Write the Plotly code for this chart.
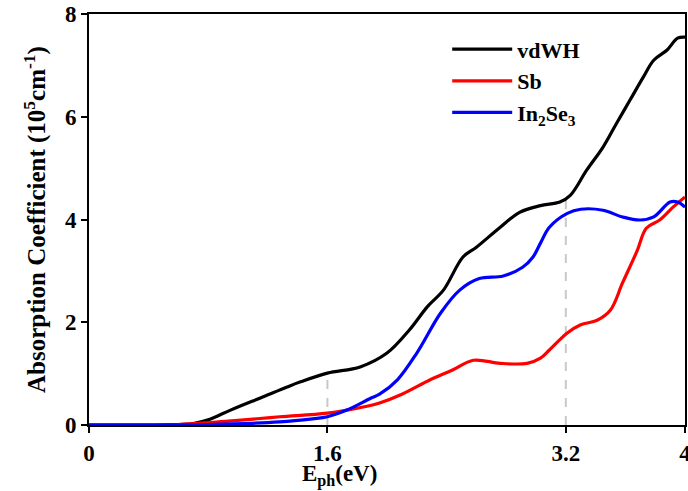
import numpy as np
import plotly.graph_objects as go

# photon energy (eV) and absorption coefficient (1e5 cm^-1)
E_vdwh = [0, 0.5, 0.7, 0.8, 0.95, 1.17, 1.33, 1.42, 1.6, 1.82, 2.0, 2.15, 2.27, 2.38, 2.51, 2.6,
          2.76, 2.89, 3.03, 3.16, 3.23, 3.34, 3.45, 3.54, 3.63, 3.72, 3.79, 3.88, 3.95, 4.0]
A_vdwh = [0, 0.005, 0.03, 0.1, 0.29, 0.55, 0.74, 0.84, 1.01, 1.13, 1.40, 1.85, 2.30, 2.63, 3.27, 3.46,
          3.85, 4.14, 4.27, 4.34, 4.47, 4.96, 5.41, 5.87, 6.32, 6.77, 7.10, 7.30, 7.53, 7.55]

E_sb = [0, 0.6, 0.83, 1.0, 1.28, 1.6, 1.84, 1.95, 2.1, 2.29, 2.44, 2.58, 2.76, 2.94, 3.03, 3.09,
        3.21, 3.30, 3.41, 3.50, 3.58, 3.68, 3.74, 3.83, 3.92, 4.0]
A_sb = [0, 0.01, 0.05, 0.09, 0.16, 0.23, 0.35, 0.43, 0.6, 0.88, 1.07, 1.26, 1.2, 1.2, 1.30, 1.46,
        1.79, 1.95, 2.04, 2.24, 2.76, 3.40, 3.83, 3.99, 4.24, 4.44]

E_in2se3 = [0, 0.8, 1.28, 1.5, 1.6, 1.73, 1.89, 1.95, 2.07, 2.2, 2.36, 2.49, 2.62, 2.78, 2.91, 2.98,
            3.03, 3.09, 3.21, 3.30, 3.45, 3.58, 3.70, 3.79, 3.90, 3.95, 4.0]
A_in2se3 = [0, 0.01, 0.06, 0.12, 0.16, 0.29, 0.52, 0.60, 0.88, 1.40, 2.18, 2.63, 2.85, 2.90, 3.07, 3.27,
            3.54, 3.85, 4.12, 4.20, 4.18, 4.05, 3.99, 4.05, 4.34, 4.34, 4.24]

marker_E = [1.6, 3.2]

x_ticks = [0, 1.6, 3.2, 4]
x_tick_labels = ["0", "1.6", "3.2", "4"]
y_ticks = [0, 2, 4, 6, 8]

FONT = "Liberation Serif, Times New Roman, serif"

fig = go.Figure()

# dashed guide lines up to the vdWH curve
for xe in marker_E:
    top = float(np.interp(xe, E_vdwh, A_vdwh))
    fig.add_trace(go.Scatter(x=[xe, xe], y=[0, top], mode="lines",
                             line=dict(color="#c8c8c8", width=2, dash="dash"),
                             showlegend=False, hoverinfo="skip"))

series = [("vdWH", E_vdwh, A_vdwh, "#000000"),
          ("Sb", E_sb, A_sb, "#ff0000"),
          ("In<sub>2</sub>Se<sub>3</sub>", E_in2se3, A_in2se3, "#0000ff")]
for name, xs, ys, col in series:
    fig.add_trace(go.Scatter(x=xs, y=ys, mode="lines", name=name,
                             line=dict(color=col, width=3.2, shape="spline", smoothing=1.0)))

fig.update_layout(
    width=688, height=491,
    margin=dict(l=89, r=3, t=14, b=66),
    paper_bgcolor="white", plot_bgcolor="white",
    font=dict(family=FONT, size=22, color="black", weight="bold"),
    legend=dict(x=0.601, y=0.965, xanchor="left", yanchor="top",
                bgcolor="rgba(0,0,0,0)", font=dict(size=22, family=FONT, weight="bold"),
                itemwidth=60),
    showlegend=True,
    annotations=[dict(text="E<sub>ph</sub>(eV)", x=0.421, y=-0.122, xref="paper", yref="paper",
                      xanchor="center", yanchor="middle", showarrow=False,
                      font=dict(size=23, family=FONT, weight="bold"))],
)
fig.update_xaxes(range=[0, 4], tickvals=x_ticks, ticktext=x_tick_labels, automargin=False,
                 showline=True, linecolor="black", linewidth=2, mirror=True,
                 ticks="outside", ticklen=6, tickwidth=2, tickcolor="black",
                 showgrid=False, zeroline=False, ticklabeloverflow="allow",
                 tickfont=dict(size=23, family=FONT, weight="bold"))
fig.update_yaxes(range=[0, 8], tickvals=y_ticks, automargin=False,
                 showline=True, linecolor="black", linewidth=2, mirror=True,
                 ticks="outside", ticklen=6, tickwidth=2, tickcolor="black",
                 showgrid=False, zeroline=False, ticklabeloverflow="allow",
                 title=dict(text="Absorption Coefficient (10<sup>5</sup>cm<sup>-1</sup>)", standoff=12,
                            font=dict(size=25, family=FONT, weight="bold")),
                 tickfont=dict(size=23, family=FONT, weight="bold"))

fig.write_html("out.html", config={"displayModeBar": False},
               post_script="document.body.style.margin='0';document.body.style.overflow='hidden';")
